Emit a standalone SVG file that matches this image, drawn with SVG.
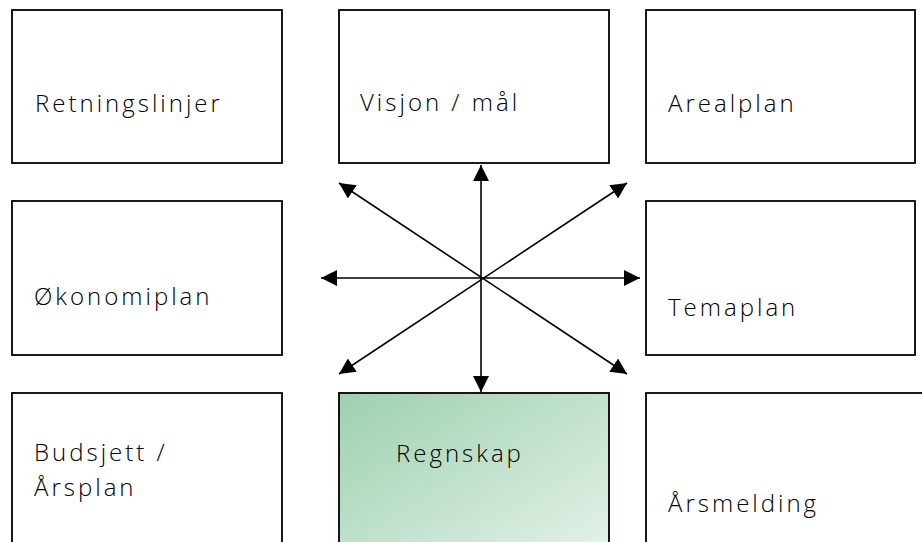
<svg xmlns="http://www.w3.org/2000/svg" width="922" height="542" viewBox="0 0 922 542">
  <defs>
    <linearGradient id="green" x1="0" y1="0" x2="1" y2="1">
      <stop offset="0" stop-color="#9dd0b0"/>
      <stop offset="1" stop-color="#e6f3ea"/>
    </linearGradient>
    <marker id="ah" viewBox="0 0 16 16" markerWidth="16" markerHeight="16" refX="16" refY="8" orient="auto-start-reverse" markerUnits="userSpaceOnUse">
      <path d="M0,0 L16,8 L0,16 z" fill="#000"/>
    </marker>
  </defs>
  <style>
    .box { fill: #fff; stroke: #000; stroke-width: 1.8; }
    .lbl { font-family: "Open Sans", "Liberation Sans", sans-serif; font-size: 24px; font-weight: 300; letter-spacing: 3px; fill: #000; }
    .con { stroke: #000; stroke-width: 1.6; fill: none; marker-start: url(#ah); marker-end: url(#ah); }
  </style>
  <rect width="922" height="542" fill="#fff"/>

  <g id="retningslinjer">
    <rect class="box" x="12" y="10" width="270" height="153"/>
    <text class="lbl" x="35" y="112">Retningslinjer</text>
  </g>
  <g id="visjon">
    <rect class="box" x="339" y="10" width="270" height="153"/>
    <text class="lbl" x="360" y="111">Visjon / mål</text>
  </g>
  <g id="arealplan">
    <rect class="box" x="646" y="10" width="269" height="153"/>
    <text class="lbl" x="668" y="112">Arealplan</text>
  </g>
  <g id="okonomiplan">
    <rect class="box" x="12" y="201" width="270" height="154"/>
    <text class="lbl" x="34" y="305">Økonomiplan</text>
  </g>
  <g id="temaplan">
    <rect class="box" x="646" y="201" width="269" height="154"/>
    <text class="lbl" x="668" y="316">Temaplan</text>
  </g>
  <g id="budsjett">
    <rect class="box" x="12" y="393" width="270" height="170"/>
    <text class="lbl" x="34" y="461">Budsjett /</text>
    <text class="lbl" x="34" y="496">Årsplan</text>
  </g>
  <g id="regnskap">
    <rect x="339" y="393" width="270" height="170" fill="url(#green)" stroke="#000" stroke-width="1.8"/>
    <text class="lbl" x="396" y="462">Regnskap</text>
  </g>
  <g id="arsmelding">
    <rect class="box" x="646" y="393" width="300" height="170"/>
    <text class="lbl" x="668" y="512">Årsmelding</text>
  </g>

  <g id="connectors">
    <line class="con" x1="481" y1="165" x2="481" y2="392"/>
    <line class="con" x1="321" y1="278" x2="640" y2="278"/>
    <line class="con" x1="339" y1="183" x2="627" y2="374"/>
    <line class="con" x1="627" y1="183" x2="339" y2="374"/>
  </g>
</svg>
